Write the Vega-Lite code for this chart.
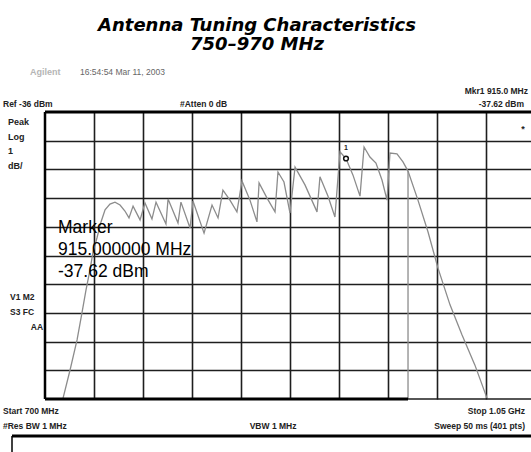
{
  "$schema": "https://vega.github.io/schema/vega-lite/v6.json",
  "width": 486,
  "height": 287,
  "autosize": "none",
  "padding": {"left": 45, "top": 112, "right": 0, "bottom": 53},
  "background": "white",
  "config": {"view": {"stroke": null}},
  "data": {"values": [{}]},
  "datasets": {
    "trace": [
      {"seg": "a", "f": 712.9, "db": -45.97},
      {"seg": "a", "f": 717.9, "db": -44.99},
      {"seg": "a", "f": 722.9, "db": -43.94},
      {"seg": "a", "f": 726.4, "db": -43.0},
      {"seg": "a", "f": 729.3, "db": -42.2},
      {"seg": "a", "f": 732.1, "db": -41.51},
      {"seg": "a", "f": 734.3, "db": -40.88},
      {"seg": "a", "f": 737.1, "db": -40.39},
      {"seg": "a", "f": 740.0, "db": -39.83},
      {"seg": "a", "f": 742.9, "db": -39.41},
      {"seg": "a", "f": 746.4, "db": -39.21},
      {"seg": "a", "f": 750.0, "db": -39.14},
      {"seg": "a", "f": 753.6, "db": -39.24},
      {"seg": "a", "f": 757.1, "db": -39.45},
      {"seg": "a", "f": 760.0, "db": -39.69},
      {"seg": "a", "f": 762.9, "db": -39.28},
      {"seg": "a", "f": 767.9, "db": -39.76},
      {"seg": "a", "f": 771.4, "db": -39.17},
      {"seg": "a", "f": 776.4, "db": -39.73},
      {"seg": "a", "f": 779.3, "db": -39.14},
      {"seg": "a", "f": 786.4, "db": -39.9},
      {"seg": "a", "f": 787.9, "db": -39.03},
      {"seg": "a", "f": 795.0, "db": -39.87},
      {"seg": "a", "f": 797.1, "db": -39.14},
      {"seg": "a", "f": 803.6, "db": -40.04},
      {"seg": "a", "f": 805.7, "db": -39.1},
      {"seg": "a", "f": 813.6, "db": -40.22},
      {"seg": "a", "f": 819.3, "db": -39.24},
      {"seg": "a", "f": 823.6, "db": -39.69},
      {"seg": "a", "f": 827.1, "db": -38.72},
      {"seg": "a", "f": 832.1, "db": -39.07},
      {"seg": "a", "f": 837.1, "db": -39.48},
      {"seg": "a", "f": 840.7, "db": -38.4},
      {"seg": "a", "f": 846.4, "db": -39.07},
      {"seg": "a", "f": 851.4, "db": -39.83},
      {"seg": "a", "f": 852.9, "db": -38.47},
      {"seg": "a", "f": 858.6, "db": -39.0},
      {"seg": "a", "f": 864.3, "db": -39.48},
      {"seg": "a", "f": 866.4, "db": -38.09},
      {"seg": "a", "f": 870.7, "db": -38.44},
      {"seg": "a", "f": 875.0, "db": -39.52},
      {"seg": "a", "f": 878.6, "db": -37.92},
      {"seg": "a", "f": 885.7, "db": -38.54},
      {"seg": "a", "f": 894.3, "db": -39.48},
      {"seg": "a", "f": 896.4, "db": -38.26},
      {"seg": "a", "f": 902.1, "db": -38.93},
      {"seg": "a", "f": 907.1, "db": -39.66},
      {"seg": "a", "f": 910.7, "db": -37.39},
      {"seg": "a", "f": 915.0, "db": -37.62},
      {"seg": "a", "f": 920.0, "db": -38.2},
      {"seg": "a", "f": 925.0, "db": -38.93},
      {"seg": "a", "f": 927.9, "db": -37.22},
      {"seg": "a", "f": 932.1, "db": -37.57},
      {"seg": "a", "f": 936.4, "db": -37.78},
      {"seg": "a", "f": 940.7, "db": -38.37},
      {"seg": "a", "f": 944.3, "db": -39.07},
      {"seg": "a", "f": 946.4, "db": -37.43},
      {"seg": "a", "f": 951.4, "db": -37.46},
      {"seg": "a", "f": 955.7, "db": -37.74},
      {"seg": "a", "f": 959.3, "db": -38.06},
      {"seg": "a", "f": 966.4, "db": -39.07},
      {"seg": "a", "f": 973.6, "db": -40.18},
      {"seg": "a", "f": 980.7, "db": -41.44},
      {"seg": "a", "f": 989.3, "db": -42.72},
      {"seg": "a", "f": 997.9, "db": -43.77},
      {"seg": "a", "f": 1007.1, "db": -44.82},
      {"seg": "a", "f": 1015.7, "db": -45.97},
      {"seg": "b", "f": 959.3, "db": -38.06},
      {"seg": "b", "f": 959.3, "db": -46.0}
    ],
    "marker": [{"f": 915.0, "db": -37.62}]
  },
  "layer": [
    {
      "data": {"name": "trace"},
      "mark": {"type": "line", "color": "#8c8c8c", "strokeWidth": 1.3},
      "encoding": {
        "x": {"field": "f", "type": "quantitative",
          "scale": {"domain": [700, 1047.142857], "nice": false, "zero": false},
          "axis": {"values": [735, 770, 805, 840, 875, 910, 945, 980, 1015], "grid": true, "gridColor": "#1e1e1e", "gridWidth": 1.6, "gridOpacity": 1, "labels": false, "labelOverlap": false, "ticks": false, "domain": false, "title": null}},
        "y": {"field": "db", "type": "quantitative",
          "scale": {"domain": [-46, -36], "nice": false, "zero": false},
          "axis": {"values": [-45, -44, -43, -42, -41, -40, -39, -38, -37], "tickCount": 10, "grid": true, "gridColor": "#1e1e1e", "gridWidth": 1.6, "gridOpacity": 1, "labels": false, "labelOverlap": false, "ticks": false, "domain": false, "title": null}},
        "detail": {"field": "seg"}
      }
    },
    {"mark": {"type": "rule", "color": "#000", "strokeWidth": 3},
     "encoding": {"x": {"datum": 700}, "x2": {"datum": 1047.142857}, "y": {"datum": -36}}},
    {"mark": {"type": "rule", "color": "#000", "strokeWidth": 2.5},
     "encoding": {"x": {"datum": 700}, "y": {"datum": -36}, "y2": {"datum": -46}}},
    {"mark": {"type": "rule", "color": "#000", "strokeWidth": 3},
     "encoding": {"x": {"datum": 700}, "x2": {"datum": 959.3}, "y": {"datum": -46}}},
    {"mark": {"type": "rule", "color": "#1e1e1e", "strokeWidth": 1.6},
     "encoding": {"x": {"datum": 959.3}, "x2": {"datum": 1047.142857}, "y": {"datum": -46}}},
    {"mark": {"type": "rule", "color": "#000", "strokeWidth": 3},
     "encoding": {"x": {"datum": 676.43}, "x2": {"datum": 1047.142857}, "y": {"datum": -47.29}}},
    {"mark": {"type": "rule", "color": "#000", "strokeWidth": 1.5},
     "encoding": {"x": {"datum": 676.43}, "y": {"datum": -47.29}, "y2": {"datum": -48}}},
    {
      "data": {"name": "marker"},
      "mark": {"type": "point", "shape": "circle", "size": 22, "filled": false, "stroke": "#111", "strokeWidth": 1.5, "fill": "white", "fillOpacity": 1},
      "encoding": {"x": {"field": "f", "type": "quantitative"}, "y": {"field": "db", "type": "quantitative"}}
    },
    {"mark": {"type": "text", "text": "1", "font": "Liberation Sans", "fontSize": 7, "fontWeight": "bold", "align": "center", "color": "#222"},
     "encoding": {"x": {"datum": 915}, "y": {"datum": -37.25}}},
    {"mark": {"type": "text", "text": "*", "font": "Liberation Sans", "fontSize": 9, "fontWeight": "bold", "align": "center", "baseline": "middle", "color": "#222"},
     "encoding": {"x": {"datum": 1041.43}, "y": {"datum": -36.6}}},
    {"mark": {"type": "text", "text": "Antenna Tuning Characteristics", "font": "DejaVu Sans", "fontSize": 18, "fontWeight": "bold", "fontStyle": "italic", "align": "center", "color": "#000"},
     "encoding": {"x": {"datum": 851.43}, "y": {"datum": -33.0}}},
    {"mark": {"type": "text", "text": "750–970 MHz", "font": "DejaVu Sans", "fontSize": 18, "fontWeight": "bold", "fontStyle": "italic", "align": "center", "color": "#000"},
     "encoding": {"x": {"datum": 851.43}, "y": {"datum": -33.67}}},
    {"mark": {"type": "text", "text": "Agilent", "font": "Liberation Sans", "fontSize": 9, "fontWeight": "bold", "align": "left", "color": "#b5b5b5"},
     "encoding": {"x": {"datum": 689.3}, "y": {"datum": -34.61}}},
    {"mark": {"type": "text", "text": "16:54:54  Mar 11, 2003", "font": "Liberation Sans", "fontSize": 8.5, "align": "left", "color": "#666"},
     "encoding": {"x": {"datum": 725}, "y": {"datum": -34.61}}},
    {"mark": {"type": "text", "text": "Mkr1  915.0 MHz", "font": "Liberation Sans", "fontSize": 8.5, "fontWeight": "bold", "align": "right", "color": "#222"},
     "encoding": {"x": {"datum": 1045}, "y": {"datum": -35.27}}},
    {"mark": {"type": "text", "text": "-37.62 dBm", "font": "Liberation Sans", "fontSize": 8.5, "fontWeight": "bold", "align": "right", "color": "#222"},
     "encoding": {"x": {"datum": 1042.14}, "y": {"datum": -35.72}}},
    {"mark": {"type": "text", "text": "Ref -36 dBm", "font": "Liberation Sans", "fontSize": 8.5, "fontWeight": "bold", "align": "left", "color": "#222"},
     "encoding": {"x": {"datum": 670}, "y": {"datum": -35.72}}},
    {"mark": {"type": "text", "text": "#Atten 0 dB", "font": "Liberation Sans", "fontSize": 8.5, "fontWeight": "bold", "align": "left", "color": "#222"},
     "encoding": {"x": {"datum": 796.4}, "y": {"datum": -35.72}}},
    {"mark": {"type": "text", "text": ["Peak", "Log", "1", "dB/"], "font": "Liberation Sans", "fontSize": 9, "fontWeight": "bold", "align": "left", "lineHeight": 14.7, "color": "#222"},
     "encoding": {"x": {"datum": 673.6}, "y": {"datum": -36.35}}},
    {"mark": {"type": "text", "text": ["V1  M2", "S3  FC"], "font": "Liberation Sans", "fontSize": 8.5, "fontWeight": "bold", "align": "left", "lineHeight": 15, "color": "#222"},
     "encoding": {"x": {"datum": 675}, "y": {"datum": -42.45}}},
    {"mark": {"type": "text", "text": "AA", "font": "Liberation Sans", "fontSize": 8.5, "fontWeight": "bold", "align": "right", "color": "#222"},
     "encoding": {"x": {"datum": 698.6}, "y": {"datum": -43.49}}},
    {"mark": {"type": "text", "text": ["Start 700 MHz", "#Res BW 1 MHz"], "font": "Liberation Sans", "fontSize": 8.5, "fontWeight": "bold", "align": "left", "lineHeight": 15, "color": "#222"},
     "encoding": {"x": {"datum": 670}, "y": {"datum": -46.42}}},
    {"mark": {"type": "text", "text": "VBW 1 MHz", "font": "Liberation Sans", "fontSize": 8.5, "fontWeight": "bold", "align": "center", "color": "#222"},
     "encoding": {"x": {"datum": 862.9}, "y": {"datum": -46.94}}},
    {"mark": {"type": "text", "text": ["Stop 1.05 GHz", "Sweep 50 ms (401 pts)"], "font": "Liberation Sans", "fontSize": 8.5, "fontWeight": "bold", "align": "right", "lineHeight": 15, "color": "#222"},
     "encoding": {"x": {"datum": 1042.86}, "y": {"datum": -46.42}}},
    {"mark": {"type": "text", "text": ["Marker", "915.000000 MHz", "-37.62 dBm"], "font": "Liberation Sans", "fontSize": 17.5, "align": "left", "lineHeight": 22, "color": "#000"},
     "encoding": {"x": {"datum": 709.3}, "y": {"datum": -40.04}}}
  ]
}
